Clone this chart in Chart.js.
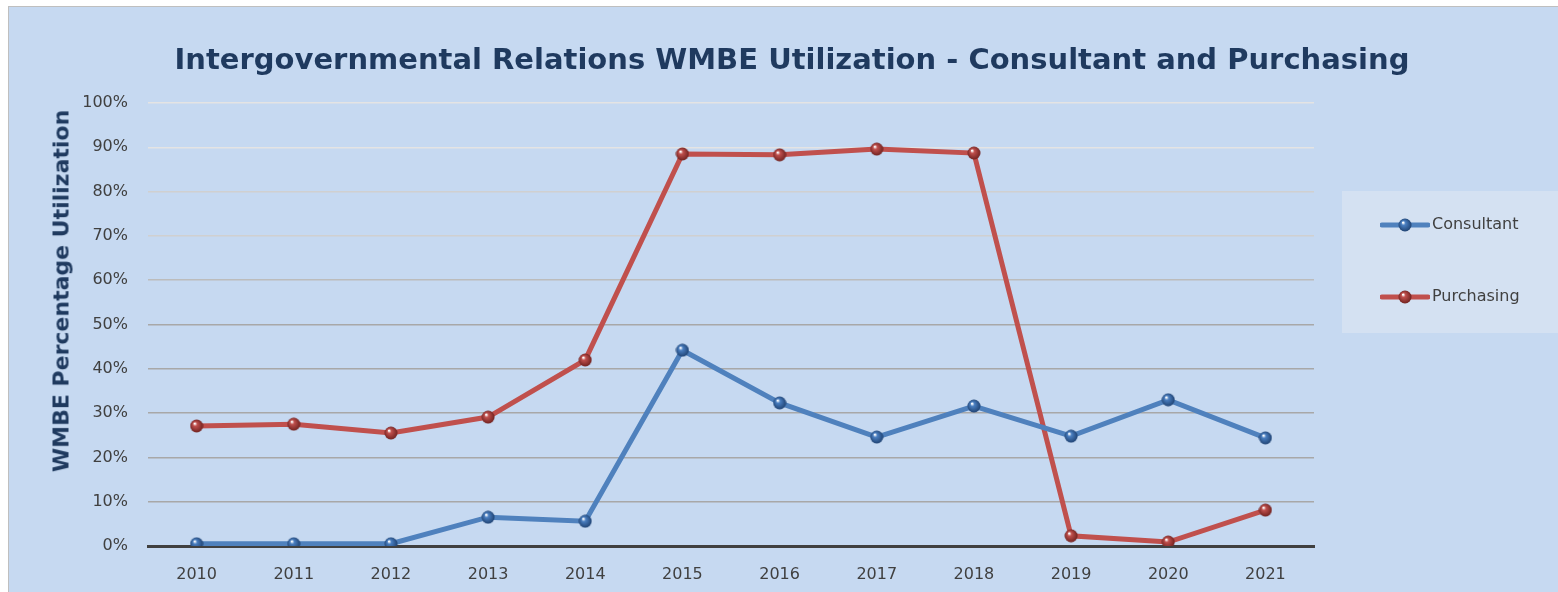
<!DOCTYPE html>
<html>
<head>
<meta charset="utf-8">
<script src="https://cdn.jsdelivr.net/npm/chart.js@4.4.1/dist/chart.umd.min.js"></script>
<style>
  body { margin: 0; background: #fff; width: 1558px; height: 592px; overflow: hidden; position: relative; }
  #wrap { position: absolute; left: 8px; top: 6px; width: 1550px; height: 586px; background: #c6d9f1; border-left: 1px solid #bfbfbf; border-top: 1px solid #bfbfbf; box-sizing: border-box; }
  #chart { position: absolute; left: 0; top: 0; }
  #title { position: absolute; left: -8px; width: 1582px; top: 35px; text-align: center; font: bold 29px "DejaVu Sans", sans-serif; color: #1f3a5f; white-space: nowrap; }
  #ytitle { position: absolute; left: 52px; top: 284px; width: 0; height: 0; }
  #ytitle span { position: absolute; transform: translate(-50%, -50%) rotate(-90deg); white-space: nowrap; font: bold 22px "DejaVu Sans", sans-serif; color: #1f3a5f; }
  #legend { position: absolute; left: 1333px; top: 184px; width: 216px; height: 142px; background: #d4e1f2; }
  .item { position: absolute; left: 38px; height: 20px; font: 16px "DejaVu Sans", sans-serif; color: #404040; line-height: 20px; }
  .item canvas { vertical-align: middle; margin-right: 2px; }
</style>
</head>
<body>
<div id="wrap">
  <canvas id="chart" width="1550" height="586"></canvas>
  <div id="title">Intergovernmental Relations WMBE Utilization - Consultant and Purchasing</div>
  <div id="ytitle"><span>WMBE Percentage Utilization</span></div>
  <div id="legend"></div>
</div>
<script>
const years = ['2010', '2011', '2012', '2013', '2014', '2015', '2016', '2017', '2018', '2019', '2020', '2021'];
const consultant = [0.5, 0.5, 0.5, 6.5, 5.6, 44.2, 32.3, 24.6, 31.6, 24.8, 33.0, 24.4];
const purchasing = [27.1, 27.5, 25.5, 29.1, 42.0, 88.5, 88.3, 89.6, 88.7, 2.3, 0.9, 8.1];
const seriesNames = ['Consultant', 'Purchasing'];
const yTicks = [0, 10, 20, 30, 40, 50, 60, 70, 80, 90, 100];

// little shaded ball used as the marker
function sphere(base, dark) {
  const c = document.createElement('canvas');
  c.width = 14; c.height = 14;
  const g = c.getContext('2d');
  const grad = g.createRadialGradient(5, 4.5, 0.5, 7, 7, 7);
  grad.addColorStop(0, '#ffffff');
  grad.addColorStop(0.25, base);
  grad.addColorStop(1, dark);
  g.fillStyle = grad;
  g.beginPath();
  g.arc(7, 7, 6.5, 0, Math.PI * 2);
  g.fill();
  return c;
}

const blueDot = sphere('#4a7fc1', '#1d3f6e');
const redDot = sphere('#c0504d', '#6b1f1d');

function gridColor(ctx) {
  const v = ctx.tick ? ctx.tick.value : 0;
  if (v >= 90) return '#e4e4e4';
  if (v >= 70) return '#d0d0d0';
  if (v >= 60) return '#bcbcbc';
  return '#a8a8a8';
}

new Chart(document.getElementById('chart'), {
  type: 'line',
  data: {
    labels: years,
    datasets: [{
      label: seriesNames[0],
      data: consultant,
      borderColor: '#4f81bd',
      borderWidth: 5,
      pointStyle: blueDot,
      tension: 0
    }, {
      label: seriesNames[1],
      data: purchasing,
      borderColor: '#c0504d',
      borderWidth: 5,
      pointStyle: redDot,
      tension: 0
    }]
  },
  options: {
    responsive: false,
    animation: false,
    layout: { padding: { left: 0, right: 245, top: 96, bottom: 0 } },
    scales: {
      x: {
        offset: true,
        grid: { display: false, drawTicks: false },
        border: { display: true, color: '#404040', width: 3 },
        ticks: { color: '#404040', font: { family: 'DejaVu Sans', size: 16 }, padding: 19 },
        afterFit: s => { s.height = 47; }
      },
      y: {
        min: 0,
        max: 100,
        afterBuildTicks: s => { s.ticks = yTicks.map(v => ({ value: v })); },
        grid: { color: gridColor, lineWidth: 1.5, drawTicks: false },
        border: { display: false },
        ticks: { color: '#404040', font: { family: 'DejaVu Sans', size: 16 }, padding: 20, callback: v => v + '%' },
        afterFit: s => { s.width = 139; }
      }
    },
    plugins: {
      legend: { display: false },
      tooltip: { enabled: false }
    }
  }
});

// legend drawn as html, line + ball like the original
const legend = document.getElementById('legend');
[[seriesNames[0], '#4f81bd', blueDot, 23], [seriesNames[1], '#c0504d', redDot, 95]].forEach(([name, color, dot, top]) => {
  const div = document.createElement('div');
  div.className = 'item';
  div.style.top = top + 'px';
  const sw = document.createElement('canvas');
  sw.width = 50; sw.height = 14;
  const g = sw.getContext('2d');
  g.strokeStyle = color;
  g.lineWidth = 5;
  g.lineCap = 'round';
  g.beginPath();
  g.moveTo(2, 7); g.lineTo(48, 7);
  g.stroke();
  g.drawImage(dot, 18, 0);
  div.appendChild(sw);
  div.appendChild(document.createTextNode(name));
  legend.appendChild(div);
});
</script>
</body>
</html>
